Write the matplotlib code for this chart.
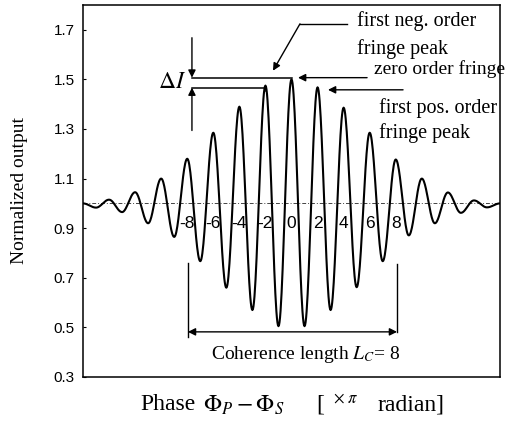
import numpy as np
import matplotlib
matplotlib.use("Agg")
import matplotlib.pyplot as plt

plt.rcParams['font.family'] = ['Liberation Serif', 'DejaVu Serif']
plt.rcParams['mathtext.fontset'] = 'stix'

# Fringe extrema (phase in units of pi)
phase_ext = [-16, -15, -14, -13, -12, -11, -10, -9, -8, -7, -6, -5, -4, -3, -2, -1, 0,
             1, 2, 3, 4, 5, 6, 7, 8, 9, 10, 11, 12, 13, 14, 15, 16]
output_ext = [1.00, 0.983, 1.015, 0.965, 1.045, 0.92, 1.10, 0.865, 1.18, 0.767, 1.285,
              0.66, 1.39, 0.57, 1.475, 0.505, 1.50,
              0.505, 1.468, 0.57, 1.386, 0.662, 1.285, 0.767, 1.177, 0.871, 1.10,
              0.92, 1.044, 0.962, 1.012, 0.984, 1.00]
fringe_labels = [-8, -6, -4, -2, 0, 2, 4, 6, 8]
y_ticks = [0.3, 0.5, 0.7, 0.9, 1.1, 1.3, 1.5, 1.7]

# smooth fringe curve: half-cosine segments joining successive extrema
xs, ys = [], []
for k in range(len(phase_ext) - 1):
    x0, x1 = phase_ext[k], phase_ext[k + 1]
    a, b = output_ext[k], output_ext[k + 1]
    t = np.linspace(0, 1, 25, endpoint=(k == len(phase_ext) - 2))
    xs.append(x0 + (x1 - x0) * t)
    ys.append((a + b) / 2 + (a - b) / 2 * np.cos(np.pi * t))
xs = np.concatenate(xs)
ys = np.concatenate(ys)

fig = plt.figure(figsize=(5.16, 4.26), dpi=100)
ax = fig.add_axes([83 / 516, 1 - 377 / 426, (500 - 83) / 516, (377 - 5) / 426])

ax.plot(xs, ys, color='black', lw=1.5)
ax.axhline(1.0, color='#444444', lw=0.7, ls=(0, (4, 2, 1, 2)), zorder=0)

ax.set_xlim(-16, 16)
ax.set_ylim(0.3, 1.8)
ax.set_xticks([])
ax.set_yticks(y_ticks)
ax.set_yticklabels([f"{v:.1f}" for v in y_ticks], family='Liberation Sans', fontsize=11)
ax.tick_params(axis='y', direction='in', length=2, width=0.8, pad=6)
for s in ax.spines.values():
    s.set_linewidth(1.1)
    s.set_color('black')

# fringe order labels inside the plot
for v in fringe_labels:
    ax.text(v, 0.92, f"{v}", ha='center', va='center', family='Liberation Sans',
            fontsize=12.5)

ak = dict(arrowstyle='-|>', color='black', lw=1.0, mutation_scale=11, shrinkA=0, shrinkB=0)

# Delta I marker
ax.plot([-7.64, 0.0], [1.507, 1.507], color='black', lw=1.1)
ax.plot([-7.64, -2.0, -2.0], [1.467, 1.467, 1.455], color='black', lw=1.1)
ax.annotate('', xy=(-7.64, 1.507), xytext=(-7.64, 1.668), arrowprops=ak)
ax.annotate('', xy=(-7.64, 1.467), xytext=(-7.64, 1.294), arrowprops=ak)
ax.text(-8.1, 1.487, r'$\Delta I$', ha='right', va='center', fontsize=17)

# first neg. order
ax.plot([4.26, 0.65], [1.724, 1.724], color='black', lw=1.0)
ax.annotate('', xy=(-1.42, 1.535), xytext=(0.65, 1.724), arrowprops=ak)
ax.text(5.0, 1.735, 'first neg. order', ha='left', va='center', fontsize=14.5)
ax.text(5.0, 1.622, 'fringe peak', ha='left', va='center', fontsize=14.5)

# zero order
ax.annotate('', xy=(0.5, 1.507), xytext=(5.8, 1.507), arrowprops=ak)
ax.text(6.3, 1.54, 'zero order fringe', ha='left', va='center', fontsize=14)

# first pos. order
ax.annotate('', xy=(2.8, 1.458), xytext=(8.56, 1.458), arrowprops=ak)
ax.text(6.75, 1.384, 'first pos. order', ha='left', va='center', fontsize=14.5)
ax.text(6.75, 1.283, 'fringe peak', ha='left', va='center', fontsize=14.5)

# coherence length
ax.plot([-7.95, -7.95], [0.76, 0.46], color='black', lw=1.0)
ax.plot([8.1, 8.1], [0.755, 0.48], color='black', lw=1.0)
ak2 = dict(arrowstyle='<|-|>', color='black', lw=1.0, mutation_scale=11, shrinkA=0, shrinkB=0)
ax.annotate('', xy=(-7.95, 0.482), xytext=(8.1, 0.482), arrowprops=ak2)
ax.text(1.1, 0.39, r'Coherence length $L_C$= 8', ha='center', va='center', fontsize=14)

fig.text(20 / 516, 1 - 190 / 426, 'Normalized output', rotation=90,
         ha='center', va='center', fontsize=14)

# x label pieces
yl = 1 - 405 / 426
fig.text(140 / 516, yl, 'Phase', ha='left', va='center', fontsize=17)
fig.text(203 / 516, yl, r'$\Phi_P - \Phi_S$', ha='left', va='center', fontsize=17)
fig.text(316 / 516, yl, '[', ha='left', va='center', fontsize=17)
fig.text(333 / 516, yl, r'$^{\times\ \pi}$', ha='left', va='center', fontsize=17)
fig.text(378 / 516, yl, 'radian]', ha='left', va='center', fontsize=17)

fig.savefig('out.png', dpi=100)
